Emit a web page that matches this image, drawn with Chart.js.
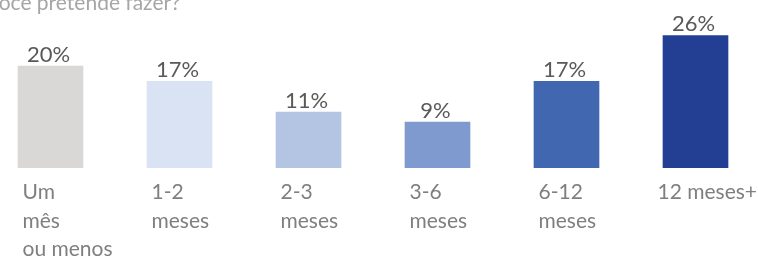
<!DOCTYPE html>
<html>
<head>
<meta charset="utf-8">
<script src="https://cdn.jsdelivr.net/npm/chart.js@4/dist/chart.umd.min.js"></script>
<style>
  html, body { margin: 0; padding: 0; background: #ffffff; overflow: hidden; }
  #wrap { position: relative; width: 758px; height: 260px; overflow: hidden; }
  #c { position: absolute; left: -14px; top: 0; }
</style>
</head>
<body>
<div id="wrap"><canvas id="c" width="774" height="260"></canvas></div>
<script>
const titleText = 'Você pretende fazer?';
const categories = [
  ['Um', 'mês', 'ou menos'],
  ['1-2', 'meses'],
  ['2-3', 'meses'],
  ['3-6', 'meses'],
  ['6-12', 'meses'],
  ['12 meses+']
];
const values = [20, 17, 11, 9, 17, 26];
const valueLabels = ['20%', '17%', '11%', '9%', '17%', '26%'];
const barColors = ['#d9d8d6', '#dae3f3', '#b4c4e3', '#7f9acf', '#4167b0', '#233f94'];

const FONT = 'Lato, "Open Sans", "DejaVu Sans", sans-serif';

// keep category labels inside the visible page width
const fitLabels = {
  id: 'fitLabels',
  beforeDraw(chart) {
    const scale = chart.scales.x;
    const items = scale.getLabelItems();
    if (items._fitted) return;
    const ctx = chart.ctx;
    const limit = 758 - chart.canvas.offsetLeft - 1;
    items.forEach(it => {
      ctx.save();
      ctx.font = it.font.string;
      const lines = Array.isArray(it.label) ? it.label : [it.label];
      const w = Math.max(...lines.map(l => ctx.measureText(l).width));
      ctx.restore();
      const over = it.options.translation[0] + w - limit;
      if (over > 0) it.options.translation[0] -= over;
    });
    items._fitted = true;
  }
};

const decorPlugin = {
  id: 'decor',
  afterDatasetsDraw(chart) {
    const ctx = chart.ctx;
    const meta = chart.getDatasetMeta(0);
    ctx.save();
    ctx.font = '22px ' + FONT;
    ctx.fillStyle = '#595959';
    ctx.textAlign = 'center';
    ctx.textBaseline = 'alphabetic';
    meta.data.forEach((bar, i) => {
      ctx.fillText(valueLabels[i], bar.x - 2, bar.y - 4.5);
    });
    ctx.font = '21px ' + FONT;
    ctx.fillStyle = '#a6a6a6';
    ctx.textAlign = 'left';
    ctx.fillText(titleText, 0, 10);
    ctx.restore();
  }
};

new Chart(document.getElementById('c'), {
  type: 'bar',
  data: {
    labels: categories,
    datasets: [{
      data: values,
      backgroundColor: barColors,
      borderWidth: 0,
      barThickness: 65
    }]
  },
  options: {
    responsive: false,
    animation: false,
    events: [],
    layout: { padding: 0 },
    plugins: {
      legend: { display: false },
      tooltip: { enabled: false },
      title: { display: false }
    },
    scales: {
      x: {
        grid: { display: false, drawTicks: false },
        border: { display: false },
        afterFit(scale) {
          scale.height = 92;
          scale.paddingLeft = 0;
          scale.paddingRight = 0;
        },
        ticks: {
          align: 'start',
          labelOffset: -28,
          padding: 10,
          autoSkip: false,
          maxRotation: 0,
          minRotation: 0,
          color: '#7f7f7f',
          font: { family: FONT, size: 21, lineHeight: 1.36 }
        }
      },
      y: {
        display: false,
        min: 0,
        max: 33
      }
    }
  },
  plugins: [fitLabels, decorPlugin]
});
</script>
</body>
</html>
